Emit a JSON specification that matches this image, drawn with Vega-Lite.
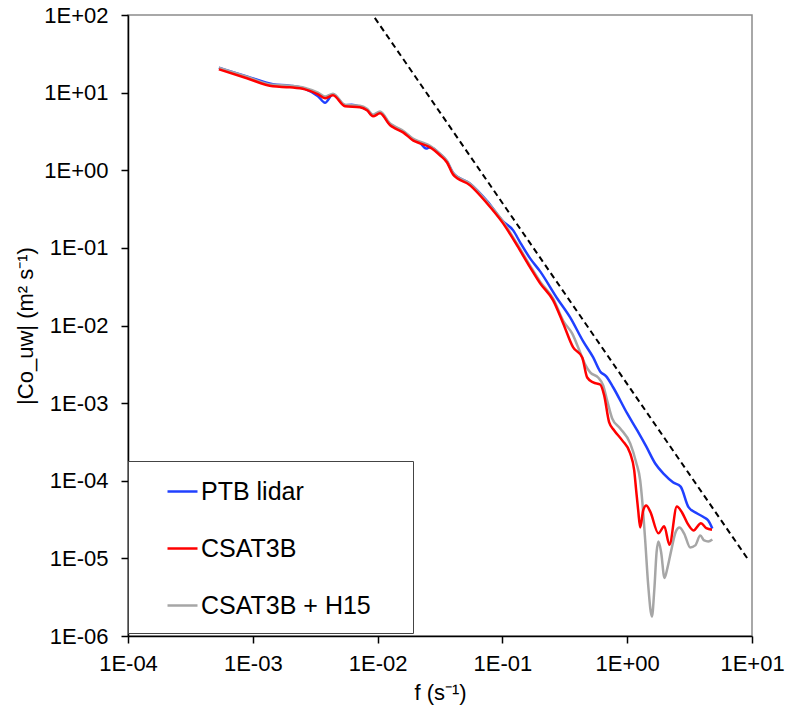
{
  "$schema": "https://vega.github.io/schema/vega-lite/v6.json",
  "width": 624,
  "height": 621,
  "autosize": {"type": "none"},
  "padding": {"left": 128, "top": 15, "right": 33, "bottom": 75},
  "background": "white",
  "config": {
    "font": "Liberation Sans",
    "view": {"stroke": "#8c8c8c", "strokeWidth": 1.5},
    "axis": {
      "grid": false,
      "domainColor": "#000000",
      "domainWidth": 1.5,
      "tickColor": "#000000",
      "tickWidth": 1.5,
      "tickSize": 7,
      "labelFont": "Liberation Sans",
      "labelFontSize": 22,
      "labelColor": "#000000",
      "titleFont": "Liberation Sans",
      "titleFontSize": 22,
      "titleFontWeight": "normal",
      "titleColor": "#000000"
    }
  },
  "datasets": {
    "slope": [
      {"f": 0.0095, "v": 91.8},
      {"f": 9.3, "v": 0.0000097}
    ],
    "curves": [
      {"series": "PTB lidar", "f": 0.000535, "v": 20.9},
      {"series": "PTB lidar", "f": 0.000897, "v": 16.2},
      {"series": "PTB lidar", "f": 0.00145, "v": 12.8},
      {"series": "PTB lidar", "f": 0.00198, "v": 12.3},
      {"series": "PTB lidar", "f": 0.00262, "v": 11.2},
      {"series": "PTB lidar", "f": 0.00333, "v": 9.0},
      {"series": "PTB lidar", "f": 0.00379, "v": 7.4},
      {"series": "PTB lidar", "f": 0.00439, "v": 9.5},
      {"series": "PTB lidar", "f": 0.00548, "v": 6.9},
      {"series": "PTB lidar", "f": 0.0062, "v": 7.0},
      {"series": "PTB lidar", "f": 0.00722, "v": 6.6},
      {"series": "PTB lidar", "f": 0.00822, "v": 6.0},
      {"series": "PTB lidar", "f": 0.00919, "v": 5.1},
      {"series": "PTB lidar", "f": 0.01045, "v": 5.6},
      {"series": "PTB lidar", "f": 0.0126, "v": 3.9},
      {"series": "PTB lidar", "f": 0.0138, "v": 3.6},
      {"series": "PTB lidar", "f": 0.016, "v": 3.15},
      {"series": "PTB lidar", "f": 0.0192, "v": 2.5},
      {"series": "PTB lidar", "f": 0.0219, "v": 2.25},
      {"series": "PTB lidar", "f": 0.0245, "v": 1.9},
      {"series": "PTB lidar", "f": 0.0263, "v": 1.98},
      {"series": "PTB lidar", "f": 0.0316, "v": 1.62},
      {"series": "PTB lidar", "f": 0.036, "v": 1.3},
      {"series": "PTB lidar", "f": 0.0402, "v": 0.93},
      {"series": "PTB lidar", "f": 0.0551, "v": 0.67},
      {"series": "PTB lidar", "f": 0.0754, "v": 0.4},
      {"series": "PTB lidar", "f": 0.1013, "v": 0.219},
      {"series": "PTB lidar", "f": 0.122, "v": 0.168},
      {"series": "PTB lidar", "f": 0.1387, "v": 0.1178},
      {"series": "PTB lidar", "f": 0.1667, "v": 0.0732},
      {"series": "PTB lidar", "f": 0.2006, "v": 0.0498},
      {"series": "PTB lidar", "f": 0.275, "v": 0.0223},
      {"series": "PTB lidar", "f": 0.349, "v": 0.01272},
      {"series": "PTB lidar", "f": 0.444, "v": 0.00624},
      {"series": "PTB lidar", "f": 0.534, "v": 0.00388},
      {"series": "PTB lidar", "f": 0.607, "v": 0.00256},
      {"series": "PTB lidar", "f": 0.679, "v": 0.00221},
      {"series": "PTB lidar", "f": 0.773, "v": 0.00159},
      {"series": "PTB lidar", "f": 1.0, "v": 0.000736},
      {"series": "PTB lidar", "f": 1.203, "v": 0.000445},
      {"series": "PTB lidar", "f": 1.42, "v": 0.000277},
      {"series": "PTB lidar", "f": 1.677, "v": 0.000167},
      {"series": "PTB lidar", "f": 1.98, "v": 0.000121},
      {"series": "PTB lidar", "f": 2.34, "v": 0.0000951},
      {"series": "PTB lidar", "f": 2.68, "v": 0.000084},
      {"series": "PTB lidar", "f": 3.1, "v": 0.0000457},
      {"series": "PTB lidar", "f": 3.64, "v": 0.0000379},
      {"series": "PTB lidar", "f": 4.14, "v": 0.0000337},
      {"series": "PTB lidar", "f": 4.46, "v": 0.0000308},
      {"series": "PTB lidar", "f": 4.81, "v": 0.0000243},

      {"series": "CSAT3B + H15", "f": 0.000535, "v": 20.9},
      {"series": "CSAT3B + H15", "f": 0.000897, "v": 16.0},
      {"series": "CSAT3B + H15", "f": 0.00145, "v": 12.6},
      {"series": "CSAT3B + H15", "f": 0.00198, "v": 12.3},
      {"series": "CSAT3B + H15", "f": 0.00262, "v": 11.5},
      {"series": "CSAT3B + H15", "f": 0.00333, "v": 10.0},
      {"series": "CSAT3B + H15", "f": 0.00379, "v": 8.9},
      {"series": "CSAT3B + H15", "f": 0.00439, "v": 9.7},
      {"series": "CSAT3B + H15", "f": 0.00548, "v": 7.0},
      {"series": "CSAT3B + H15", "f": 0.00722, "v": 6.8},
      {"series": "CSAT3B + H15", "f": 0.00822, "v": 6.2},
      {"series": "CSAT3B + H15", "f": 0.00919, "v": 5.2},
      {"series": "CSAT3B + H15", "f": 0.01045, "v": 5.7},
      {"series": "CSAT3B + H15", "f": 0.0126, "v": 4.0},
      {"series": "CSAT3B + H15", "f": 0.0138, "v": 3.65},
      {"series": "CSAT3B + H15", "f": 0.016, "v": 3.23},
      {"series": "CSAT3B + H15", "f": 0.0192, "v": 2.55},
      {"series": "CSAT3B + H15", "f": 0.0219, "v": 2.33},
      {"series": "CSAT3B + H15", "f": 0.0263, "v": 2.07},
      {"series": "CSAT3B + H15", "f": 0.0316, "v": 1.64},
      {"series": "CSAT3B + H15", "f": 0.036, "v": 1.32},
      {"series": "CSAT3B + H15", "f": 0.0402, "v": 0.93},
      {"series": "CSAT3B + H15", "f": 0.0551, "v": 0.67},
      {"series": "CSAT3B + H15", "f": 0.0754, "v": 0.393},
      {"series": "CSAT3B + H15", "f": 0.1013, "v": 0.218},
      {"series": "CSAT3B + H15", "f": 0.131, "v": 0.113},
      {"series": "CSAT3B + H15", "f": 0.1667, "v": 0.059},
      {"series": "CSAT3B + H15", "f": 0.2006, "v": 0.0367},
      {"series": "CSAT3B + H15", "f": 0.255, "v": 0.0222},
      {"series": "CSAT3B + H15", "f": 0.307, "v": 0.0115},
      {"series": "CSAT3B + H15", "f": 0.362, "v": 0.00791},
      {"series": "CSAT3B + H15", "f": 0.42, "v": 0.0045},
      {"series": "CSAT3B + H15", "f": 0.461, "v": 0.00315},
      {"series": "CSAT3B + H15", "f": 0.505, "v": 0.00249},
      {"series": "CSAT3B + H15", "f": 0.585, "v": 0.00214},
      {"series": "CSAT3B + H15", "f": 0.642, "v": 0.00169},
      {"series": "CSAT3B + H15", "f": 0.691, "v": 0.00108},
      {"series": "CSAT3B + H15", "f": 0.758, "v": 0.000635},
      {"series": "CSAT3B + H15", "f": 0.879, "v": 0.000472},
      {"series": "CSAT3B + H15", "f": 1.057, "v": 0.000303},
      {"series": "CSAT3B + H15", "f": 1.18, "v": 0.000172},
      {"series": "CSAT3B + H15", "f": 1.271, "v": 0.000101},
      {"series": "CSAT3B + H15", "f": 1.319, "v": 0.0000557},
      {"series": "CSAT3B + H15", "f": 1.394, "v": 0.000017},
      {"series": "CSAT3B + H15", "f": 1.474, "v": 0.00000448},
      {"series": "CSAT3B + H15", "f": 1.578, "v": 0.00000178},
      {"series": "CSAT3B + H15", "f": 1.65, "v": 0.000004},
      {"series": "CSAT3B + H15", "f": 1.72, "v": 0.000012},
      {"series": "CSAT3B + H15", "f": 1.78, "v": 0.0000165},
      {"series": "CSAT3B + H15", "f": 1.87, "v": 0.000012},
      {"series": "CSAT3B + H15", "f": 1.99, "v": 0.0000056},
      {"series": "CSAT3B + H15", "f": 2.1, "v": 0.0000075},
      {"series": "CSAT3B + H15", "f": 2.25, "v": 0.0000125},
      {"series": "CSAT3B + H15", "f": 2.45, "v": 0.000022},
      {"series": "CSAT3B + H15", "f": 2.62, "v": 0.000025},
      {"series": "CSAT3B + H15", "f": 2.86, "v": 0.0000209},
      {"series": "CSAT3B + H15", "f": 3.2, "v": 0.0000138},
      {"series": "CSAT3B + H15", "f": 3.51, "v": 0.0000147},
      {"series": "CSAT3B + H15", "f": 3.85, "v": 0.0000197},
      {"series": "CSAT3B + H15", "f": 4.14, "v": 0.000017},
      {"series": "CSAT3B + H15", "f": 4.46, "v": 0.0000165},
      {"series": "CSAT3B + H15", "f": 4.81, "v": 0.0000175},

      {"series": "CSAT3B", "f": 0.000535, "v": 19.96},
      {"series": "CSAT3B", "f": 0.000897, "v": 15.3},
      {"series": "CSAT3B", "f": 0.00145, "v": 12.05},
      {"series": "CSAT3B", "f": 0.00198, "v": 11.7},
      {"series": "CSAT3B", "f": 0.00262, "v": 11.0},
      {"series": "CSAT3B", "f": 0.00333, "v": 9.51},
      {"series": "CSAT3B", "f": 0.00379, "v": 8.45},
      {"series": "CSAT3B", "f": 0.00439, "v": 9.23},
      {"series": "CSAT3B", "f": 0.00548, "v": 6.66},
      {"series": "CSAT3B", "f": 0.00722, "v": 6.47},
      {"series": "CSAT3B", "f": 0.00822, "v": 5.91},
      {"series": "CSAT3B", "f": 0.00919, "v": 4.95},
      {"series": "CSAT3B", "f": 0.01045, "v": 5.41},
      {"series": "CSAT3B", "f": 0.0126, "v": 3.79},
      {"series": "CSAT3B", "f": 0.0138, "v": 3.47},
      {"series": "CSAT3B", "f": 0.016, "v": 3.08},
      {"series": "CSAT3B", "f": 0.0192, "v": 2.43},
      {"series": "CSAT3B", "f": 0.0219, "v": 2.22},
      {"series": "CSAT3B", "f": 0.0263, "v": 1.97},
      {"series": "CSAT3B", "f": 0.0316, "v": 1.56},
      {"series": "CSAT3B", "f": 0.036, "v": 1.26},
      {"series": "CSAT3B", "f": 0.0402, "v": 0.885},
      {"series": "CSAT3B", "f": 0.0551, "v": 0.639},
      {"series": "CSAT3B", "f": 0.0754, "v": 0.374},
      {"series": "CSAT3B", "f": 0.1013, "v": 0.207},
      {"series": "CSAT3B", "f": 0.131, "v": 0.1077},
      {"series": "CSAT3B", "f": 0.1667, "v": 0.0561},
      {"series": "CSAT3B", "f": 0.2006, "v": 0.0349},
      {"series": "CSAT3B", "f": 0.255, "v": 0.0211},
      {"series": "CSAT3B", "f": 0.307, "v": 0.01064},
      {"series": "CSAT3B", "f": 0.369, "v": 0.00522},
      {"series": "CSAT3B", "f": 0.436, "v": 0.00388},
      {"series": "CSAT3B", "f": 0.478, "v": 0.00214},
      {"series": "CSAT3B", "f": 0.534, "v": 0.00185},
      {"series": "CSAT3B", "f": 0.607, "v": 0.00174},
      {"series": "CSAT3B", "f": 0.654, "v": 0.00126},
      {"series": "CSAT3B", "f": 0.717, "v": 0.000564},
      {"series": "CSAT3B", "f": 0.787, "v": 0.000445},
      {"series": "CSAT3B", "f": 0.912, "v": 0.000331},
      {"series": "CSAT3B", "f": 1.057, "v": 0.000225},
      {"series": "CSAT3B", "f": 1.138, "v": 0.000136},
      {"series": "CSAT3B", "f": 1.18, "v": 0.000075},
      {"series": "CSAT3B", "f": 1.225, "v": 0.0000414},
      {"series": "CSAT3B", "f": 1.271, "v": 0.000025},
      {"series": "CSAT3B", "f": 1.343, "v": 0.0000414},
      {"series": "CSAT3B", "f": 1.42, "v": 0.0000481},
      {"series": "CSAT3B", "f": 1.53, "v": 0.00004},
      {"series": "CSAT3B", "f": 1.78, "v": 0.000021},
      {"series": "CSAT3B", "f": 1.98, "v": 0.000026},
      {"series": "CSAT3B", "f": 2.18, "v": 0.000015},
      {"series": "CSAT3B", "f": 2.5, "v": 0.0000467},
      {"series": "CSAT3B", "f": 2.75, "v": 0.000039},
      {"series": "CSAT3B", "f": 3.05, "v": 0.000028},
      {"series": "CSAT3B", "f": 3.4, "v": 0.0000229},
      {"series": "CSAT3B", "f": 3.9, "v": 0.0000284},
      {"series": "CSAT3B", "f": 4.3, "v": 0.0000245},
      {"series": "CSAT3B", "f": 4.78, "v": 0.0000234}
    ]
  },
  "encoding": {
    "x": {
      "field": "f",
      "type": "quantitative",
      "scale": {"type": "log", "domain": [0.0001, 10], "nice": false},
      "axis": {
        "values": [0.0001, 0.001, 0.01, 0.1, 1, 10],
        "labelExpr": "'1E' + (round(log(datum.value)/LN10) >= 0 ? '+' : '-') + (abs(round(log(datum.value)/LN10)) < 10 ? '0' : '') + abs(round(log(datum.value)/LN10))",
        "title": "f (s⁻¹)",
        "labelPadding": 10,
        "titlePadding": 8,
        "labelFlush": false
      }
    },
    "y": {
      "field": "v",
      "type": "quantitative",
      "scale": {"type": "log", "domain": [0.000001, 100], "nice": false},
      "axis": {
        "values": [0.000001, 0.00001, 0.0001, 0.001, 0.01, 0.1, 1, 10, 100],
        "labelExpr": "'1E' + (round(log(datum.value)/LN10) >= 0 ? '+' : '-') + (abs(round(log(datum.value)/LN10)) < 10 ? '0' : '') + abs(round(log(datum.value)/LN10))",
        "title": "|Co_uw| (m² s⁻¹)",
        "labelPadding": 13,
        "titlePadding": 6,
        "labelFlush": false
      }
    }
  },
  "layer": [
    {
      "data": {"name": "curves"},
      "transform": [{"filter": "datum.series === 'PTB lidar'"}],
      "mark": {"type": "line", "interpolate": "monotone", "strokeWidth": 2.5},
      "encoding": {
        "color": {
          "field": "series",
          "type": "nominal",
          "scale": {"domain": ["PTB lidar", "CSAT3B", "CSAT3B + H15"], "range": ["#2040ff", "#ff0000", "#a6a6a6"]},
          "legend": {
            "orient": "none",
            "legendX": 0,
            "legendY": 446,
            "title": null,
            "padding": 14,
            "strokeColor": "#444444",
            "fillColor": "white",
            "labelFont": "Liberation Sans",
            "labelFontSize": 25,
            "labelColor": "#000000",
            "labelLimit": 500,
            "symbolType": "stroke",
            "symbolSize": 900,
            "symbolStrokeWidth": 2.5,
            "symbolOffset": 24,
            "rowPadding": 27,
            "labelOffset": 2,
            "labelExpr": "datum.label + '\u00a0\u00a0\u00a0\u00a0\u200b'"
          }
        }
      }
    },
    {
      "data": {"name": "curves"},
      "transform": [{"filter": "datum.series === 'CSAT3B + H15'"}],
      "mark": {"type": "line", "interpolate": "monotone", "strokeWidth": 2.5},
      "encoding": {"color": {"field": "series", "type": "nominal"}}
    },
    {
      "data": {"name": "curves"},
      "transform": [{"filter": "datum.series === 'CSAT3B'"}],
      "mark": {"type": "line", "interpolate": "monotone", "strokeWidth": 2.5},
      "encoding": {"color": {"field": "series", "type": "nominal"}}
    },
    {
      "data": {"name": "slope"},
      "mark": {"type": "line", "color": "#000000", "strokeDash": [6, 4], "strokeWidth": 2},
      "encoding": {}
    }
  ]
}
